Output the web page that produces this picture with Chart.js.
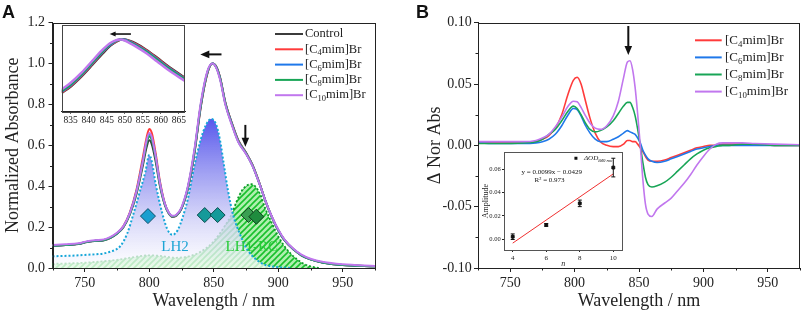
<!DOCTYPE html>
<html>
<head>
<meta charset="utf-8">
<script src="https://cdn.jsdelivr.net/npm/chart.js@4.4.0/dist/chart.umd.min.js"></script>
<style>
  html, body { margin: 0; padding: 0; background: #fff; }
  #wrap { position: relative; width: 803px; height: 315px; overflow: hidden; }
  canvas { position: absolute; }
  .tag { position: absolute; font: bold 18px 'Liberation Sans', Arial, sans-serif; color: #111; }
</style>
</head>
<body>
<div id="wrap">
  <canvas id="chartA" width="400" height="315" style="left:0;top:0"></canvas>
  <canvas id="insetA" width="140" height="110" style="left:55px;top:20px"></canvas>
  <canvas id="chartB" width="403" height="315" style="left:400px;top:0"></canvas>
  <canvas id="insetB" width="150" height="124" style="left:478px;top:145px"></canvas>
  <div class="tag" style="left:2px;top:2px">A</div>
  <div class="tag" style="left:416px;top:2px">B</div>
</div>
<script>
// ---------- panel A: normalized absorbance
const wlA = [725, 735, 745, 752, 758, 765, 770, 775, 780, 785, 790, 795, 798, 800, 802,
  805, 808, 812, 815, 818, 821, 825, 830, 835, 840, 845, 849, 852, 855, 859,
  864, 869, 875, 880, 886, 890, 895, 900, 905, 912, 918, 925, 935, 950, 975];
const absControl = [0.108, 0.112, 0.117, 0.127, 0.132, 0.136, 0.148, 0.168, 0.200, 0.262, 0.360, 0.500, 0.592, 0.625, 0.605,
  0.520, 0.410, 0.310, 0.268, 0.250, 0.256, 0.290, 0.390, 0.560, 0.790, 0.950, 1.000, 0.985, 0.930, 0.810,
  0.710, 0.625, 0.565, 0.505, 0.405, 0.330, 0.250, 0.185, 0.135, 0.090, 0.062, 0.042, 0.026, 0.015, 0.008];
const absC4 = [0.109, 0.113, 0.118, 0.128, 0.133, 0.137, 0.149, 0.170, 0.205, 0.272, 0.380, 0.540, 0.640, 0.680, 0.660,
  0.560, 0.435, 0.318, 0.272, 0.252, 0.257, 0.291, 0.392, 0.565, 0.795, 0.952, 1.000, 0.983, 0.928, 0.808,
  0.708, 0.623, 0.563, 0.503, 0.404, 0.329, 0.250, 0.185, 0.135, 0.090, 0.062, 0.042, 0.026, 0.015, 0.008];
const absC6 = [0.109, 0.113, 0.118, 0.128, 0.133, 0.137, 0.149, 0.169, 0.203, 0.268, 0.372, 0.522, 0.620, 0.655, 0.635,
  0.545, 0.425, 0.315, 0.271, 0.252, 0.258, 0.292, 0.394, 0.568, 0.798, 0.955, 1.000, 0.982, 0.926, 0.806,
  0.706, 0.621, 0.561, 0.502, 0.403, 0.329, 0.250, 0.185, 0.135, 0.090, 0.062, 0.042, 0.026, 0.015, 0.008];
const absC8 = [0.109, 0.113, 0.118, 0.128, 0.133, 0.137, 0.149, 0.169, 0.202, 0.266, 0.368, 0.515, 0.610, 0.645, 0.625,
  0.538, 0.420, 0.313, 0.270, 0.252, 0.258, 0.293, 0.396, 0.571, 0.801, 0.957, 1.000, 0.981, 0.924, 0.804,
  0.704, 0.619, 0.560, 0.501, 0.402, 0.328, 0.249, 0.185, 0.135, 0.090, 0.062, 0.042, 0.026, 0.015, 0.008];
const absC10 = [0.112, 0.116, 0.121, 0.131, 0.136, 0.140, 0.152, 0.172, 0.205, 0.270, 0.372, 0.520, 0.625, 0.660, 0.640,
  0.545, 0.425, 0.317, 0.273, 0.255, 0.261, 0.297, 0.402, 0.580, 0.810, 0.962, 1.000, 0.978, 0.918, 0.798,
  0.700, 0.616, 0.558, 0.500, 0.402, 0.330, 0.252, 0.188, 0.138, 0.093, 0.065, 0.045, 0.029, 0.018, 0.010];

// fitted components
const wlLH2 = [725, 750, 770, 778, 783, 788, 793, 797, 800, 802, 805, 810, 814, 818, 822, 826, 830,
  835, 840, 844, 848, 852, 855, 858, 861, 865, 870, 875, 880, 885, 890, 900, 910];
const absLH2 = [0.057, 0.064, 0.080, 0.110, 0.170, 0.270, 0.380, 0.470, 0.553, 0.520, 0.410, 0.270, 0.190, 0.162, 0.185, 0.250, 0.340,
  0.500, 0.630, 0.700, 0.730, 0.700, 0.620, 0.500, 0.380, 0.260, 0.170, 0.100, 0.058, 0.032, 0.015, 0.004, 0.000];
const wlRC = [725, 750, 775, 790, 800, 810, 820, 830, 840, 850, 858, 864, 868, 872, 876, 879, 882,
  886, 890, 895, 900, 905, 910, 915, 920, 925, 932];
const absRC = [0.020, 0.026, 0.040, 0.055, 0.062, 0.058, 0.050, 0.056, 0.080, 0.130, 0.200, 0.265, 0.330, 0.380, 0.405, 0.410, 0.400,
  0.360, 0.290, 0.220, 0.155, 0.105, 0.068, 0.040, 0.020, 0.008, 0.000];

// band markers (diamonds)
const markWl = [799, 843, 853, 877, 883];
const markAbs = [0.254, 0.259, 0.259, 0.259, 0.251];

// inset A: zoom of the 850 nm band
const wlIn = [832.5, 835, 838, 841, 844, 846, 848, 849, 850, 851, 853, 856, 859, 862, 866.7];
const inControl = [0.852, 0.870, 0.898, 0.930, 0.963, 0.983, 0.996, 1.000, 1.000, 0.997, 0.989, 0.971, 0.949, 0.926, 0.894];
const inC4 = [0.854, 0.872, 0.900, 0.933, 0.966, 0.985, 0.997, 1.000, 0.999, 0.996, 0.987, 0.969, 0.947, 0.924, 0.892];
const inC6 = [0.856, 0.874, 0.902, 0.935, 0.968, 0.986, 0.998, 1.000, 0.999, 0.995, 0.985, 0.967, 0.945, 0.922, 0.890];
const inC8 = [0.858, 0.876, 0.904, 0.937, 0.970, 0.988, 0.998, 1.000, 0.998, 0.994, 0.983, 0.965, 0.943, 0.920, 0.888];
const inC10 = [0.862, 0.880, 0.908, 0.941, 0.973, 0.990, 0.999, 1.000, 0.997, 0.992, 0.981, 0.962, 0.939, 0.916, 0.885];

// ---------- panel B: difference spectra
const wlB = [725, 740, 760, 770, 775, 780, 785, 790, 795, 799, 802, 805, 808, 812, 816,
  820, 825, 830, 834, 838, 841, 843, 845, 847, 849, 851, 853, 855, 857, 860,
  864, 870, 875, 880, 885, 890, 895, 900, 905, 910, 915, 920, 930, 940, 955, 975];
const dC4 = [0.002, 0.002, 0.002, 0.003, 0.005, 0.008, 0.014, 0.025, 0.042, 0.053, 0.0555, 0.050, 0.038, 0.022, 0.010,
  0.003, 0.000, -0.001, -0.001, 0.001, 0.004, 0.004, 0.003, 0.003, 0.001, -0.002, -0.005, -0.009, -0.012, -0.013,
  -0.013, -0.012, -0.010, -0.008, -0.006, -0.004, -0.002, -0.001, 0.000, 0.000, 0.001, 0.001, 0.001, 0.001, 0.000, 0.000];
const dC6 = [0.002, 0.0015, 0.0015, 0.002, 0.003, 0.005, 0.009, 0.016, 0.025, 0.030, 0.029, 0.024, 0.017, 0.010, 0.005,
  0.003, 0.003, 0.005, 0.007, 0.010, 0.012, 0.011, 0.010, 0.009, 0.006, 0.002, -0.004, -0.008, -0.011, -0.013,
  -0.014, -0.013, -0.011, -0.009, -0.007, -0.005, -0.003, -0.002, -0.001, 0.000, 0.000, 0.000, 0.000, 0.000, 0.000, 0.000];
const dC8 = [0.0015, 0.0015, 0.002, 0.003, 0.005, 0.009, 0.013, 0.020, 0.028, 0.032, 0.030, 0.025, 0.019, 0.013, 0.011,
  0.012, 0.015, 0.020, 0.026, 0.032, 0.035, 0.035, 0.031, 0.024, 0.013, 0.000, -0.014, -0.026, -0.032, -0.034,
  -0.033, -0.030, -0.026, -0.021, -0.016, -0.011, -0.007, -0.004, -0.002, -0.001, 0.000, 0.000, 0.001, 0.001, 0.000, 0.000];
const dC10 = [0.003, 0.003, 0.003, 0.004, 0.006, 0.009, 0.015, 0.023, 0.032, 0.036, 0.0355, 0.031, 0.025, 0.018, 0.014,
  0.013, 0.016, 0.024, 0.036, 0.055, 0.068, 0.069, 0.062, 0.047, 0.025, 0.000, -0.028, -0.048, -0.056, -0.058,
  -0.052, -0.047, -0.043, -0.037, -0.031, -0.024, -0.016, -0.009, -0.003, 0.001, 0.002, 0.002, 0.002, 0.0015, 0.001, 0.0005];

// inset B: amplitude at 840 nm vs chain length
const chainN = [4, 6, 8, 10];
const ampl = [0.0022, 0.0123, 0.0308, 0.0615];
const amplErr = [0.0024, 0.0012, 0.0028, 0.0080];
const fitN = [4, 10];
const fitAmp = [-0.0033, 0.0561];

const namesA = ['Control', '[C{4}mim]Br', '[C{6}mim]Br', '[C{8}mim]Br', '[C{10}mim]Br'];
const namesB = ['[C{4}mim]Br', '[C{6}mim]Br', '[C{8}mim]Br', '[C{10}mim]Br'];

// ---------- styling
const SERIF = "'Liberation Serif', 'Times New Roman', serif";
const INK = '#222';
const COL = { ctrl: '#3b3b3b', c4: '#ff3b3b', c6: '#1f78ea', c8: '#18a556', c10: '#c177ee' };

Chart.defaults.font.family = SERIF;
Chart.defaults.color = INK;
Chart.defaults.animation = false;
Chart.defaults.responsive = false;
Chart.defaults.plugins.legend.display = false;
Chart.defaults.plugins.tooltip.enabled = false;

const pts = (xs, ys) => xs.map((x, i) => ({ x, y: ys[i] }));

function lineSet(label, xs, ys, color, order, width) {
  return {
    label, data: pts(xs, ys), borderColor: color, backgroundColor: color,
    borderWidth: width, pointRadius: 0, cubicInterpolationMode: 'monotone', fill: false, order
  };
}

const onStep = (v, step) => Math.abs(v / step - Math.round(v / step)) < 1e-6;

function axis(o) {
  return {
    type: 'linear', position: o.pos, min: o.min, max: o.max,
    display: o.hidden ? false : true,
    border: { color: INK, width: 1 },
    grid: {
      drawOnChartArea: false, drawTicks: true, tickLength: o.tick || 4,
      tickColor: c => onStep(c.tick.value, o.major) ? INK : 'rgba(0,0,0,0)'
    },
    ticks: {
      stepSize: o.step, autoSkip: false, maxRotation: 0, includeBounds: false,
      padding: o.labelPad, color: INK, font: { size: o.size || 14 },
      callback: v => onStep(v, o.major) ? v.toFixed(o.digits) : ''
    },
    title: {
      display: !!o.title, text: o.title, color: INK, padding: o.titlePad,
      font: { size: o.titleSize || 18, style: o.italic ? 'italic' : 'normal' }
    },
    afterFit: s => { if (o.pos === 'left') s.width = o.fit; else s.height = o.fit; }
  };
}

// box around plot, white backdrop for insets, short minor ticks
function framePlugin(opt) {
  return {
    id: 'frame',
    beforeDraw(chart) {
      if (!opt.white) return;
      const { ctx, chartArea: c } = chart;
      ctx.save(); ctx.fillStyle = '#fff';
      ctx.fillRect(c.left, c.top, c.right - c.left, c.bottom - c.top);
      ctx.restore();
    },
    afterDraw(chart) {
      const { ctx, chartArea: c } = chart;
      ctx.save();
      ctx.strokeStyle = opt.color || INK; ctx.lineWidth = 1;
      ctx.strokeRect(Math.round(c.left) + 0.5, Math.round(c.top) + 0.5,
        Math.round(c.right - c.left) - 1, Math.round(c.bottom - c.top));
      ctx.strokeStyle = INK;
      Object.entries(opt.minor || {}).forEach(([id, major]) => {
        const s = chart.scales[id];
        s.ticks.forEach(t => {
          if (onStep(t.value, major)) return;
          const p = Math.round(s.getPixelForValue(t.value)) + 0.5;
          ctx.beginPath();
          if (s.isHorizontal()) { ctx.moveTo(p, c.bottom); ctx.lineTo(p, c.bottom + 2.5); }
          else { ctx.moveTo(c.left, p); ctx.lineTo(c.left - 2.5, p); }
          ctx.stroke();
        });
      });
      ctx.restore();
    }
  };
}

// text with {subscript} parts
function richText(ctx, text, x, y, size, italic) {
  text.split(/[{}]/).forEach((p, i) => {
    const sub = i % 2 === 1;
    ctx.font = (italic ? 'italic ' : '') + (sub ? size * 0.68 : size) + 'px ' + SERIF;
    ctx.fillText(p, x, y + (sub ? size * 0.3 : 0));
    x += ctx.measureText(p).width;
  });
}

function drawArrow(ctx, x1, y1, x2, y2, w, head) {
  const a = Math.atan2(y2 - y1, x2 - x1), ca = Math.cos(a), sa = Math.sin(a);
  ctx.save();
  ctx.strokeStyle = ctx.fillStyle = '#111'; ctx.lineWidth = w;
  ctx.beginPath(); ctx.moveTo(x1, y1); ctx.lineTo(x2 - ca * head * 0.8, y2 - sa * head * 0.8); ctx.stroke();
  ctx.beginPath(); ctx.moveTo(x2, y2);
  ctx.lineTo(x2 - head * ca + head * 0.42 * sa, y2 - head * sa - head * 0.42 * ca);
  ctx.lineTo(x2 - head * ca - head * 0.42 * sa, y2 - head * sa + head * 0.42 * ca);
  ctx.closePath(); ctx.fill();
  ctx.restore();
}

function notesPlugin(opt) {
  return {
    id: 'notes',
    afterDatasetsDraw(chart) {
      const { ctx, scales: { x, y } } = chart;
      (opt.arrows || []).forEach(a => drawArrow(ctx, x.getPixelForValue(a[0]), y.getPixelForValue(a[1]),
        x.getPixelForValue(a[2]), y.getPixelForValue(a[3]), opt.arrowWidth || 2, opt.head || 9));
      ctx.save();
      ctx.textBaseline = 'middle';
      (opt.labels || []).forEach(l => {
        ctx.fillStyle = l.color;
        ctx.textAlign = l.align || 'center';
        ctx.font = (l.italic ? 'italic ' : '') + l.size + 'px ' + SERIF;
        ctx.fillText(l.text, x.getPixelForValue(l.x), y.getPixelForValue(l.y));
      });
      ctx.textAlign = 'left';
      if (opt.legend) {
        const L = opt.legend;
        L.names.forEach((n, i) => {
          const yy = L.y0 + i * L.gap;
          ctx.strokeStyle = L.colors[i]; ctx.lineWidth = 2;
          ctx.beginPath(); ctx.moveTo(L.x0, yy); ctx.lineTo(L.x1, yy); ctx.stroke();
          ctx.fillStyle = INK;
          richText(ctx, n, L.tx, yy, L.size);
        });
      }
      ctx.restore();
    }
  };
}

function hatch() {
  const c = document.createElement('canvas');
  c.width = c.height = 6;
  const g = c.getContext('2d');
  g.fillStyle = 'rgba(110,225,110,0.55)'; g.fillRect(0, 0, 6, 6);
  g.strokeStyle = '#18c02c'; g.lineWidth = 1.6;
  g.beginPath();
  g.moveTo(0, 6); g.lineTo(6, 0);
  g.moveTo(-1, 1); g.lineTo(1, -1);
  g.moveTo(5, 7); g.lineTo(7, 5);
  g.stroke();
  return g.createPattern(c, 'repeat');
}

function lh2Fill(context) {
  const chart = context.chart;
  if (!chart.chartArea) return 'rgba(0,0,0,0)';
  const y = chart.scales.y;
  const g = chart.ctx.createLinearGradient(0, y.getPixelForValue(0.74), 0, y.getPixelForValue(0));
  g.addColorStop(0, 'rgba(75,75,235,0.95)');
  g.addColorStop(0.35, 'rgba(140,140,240,0.85)');
  g.addColorStop(0.7, 'rgba(212,212,248,0.82)');
  g.addColorStop(1, 'rgba(255,255,255,0.72)');
  return g;
}

// ---------- chart A
new Chart(document.getElementById('chartA'), {
  type: 'line',
  data: {
    datasets: [
      { label: 'LH1-RC', data: pts(wlRC, absRC), borderColor: '#0e9a2a', borderWidth: 1.8, borderDash: [2, 2],
        backgroundColor: hatch(), fill: 'origin', pointRadius: 0, cubicInterpolationMode: 'monotone', order: 10 },
      { label: 'LH2', data: pts(wlLH2, absLH2), borderColor: '#16a6d8', borderWidth: 2, borderDash: [2, 2],
        backgroundColor: lh2Fill, fill: 'origin', pointRadius: 0, cubicInterpolationMode: 'monotone', order: 9 },
      lineSet('Control', wlA, absControl, COL.ctrl, 6, 2),
      lineSet('[C4mim]Br', wlA, absC4, COL.c4, 5, 2),
      lineSet('[C6mim]Br', wlA, absC6, COL.c6, 4, 2),
      lineSet('[C8mim]Br', wlA, absC8, COL.c8, 3, 2),
      lineSet('[C10mim]Br', wlA, absC10, COL.c10, 2, 2),
      { label: 'bands', data: pts(markWl, markAbs), showLine: false, pointStyle: 'rectRot', pointRadius: 7.5,
        pointBackgroundColor: ['#1a9fd0', '#159a9a', '#159a9a', '#3a9f52', '#1f8c3e'],
        pointBorderColor: ['#0b4f6a', '#0a4d4d', '#0a4d4d', '#12461f', '#0d3f1a'], pointBorderWidth: 1, order: 0 }
    ]
  },
  options: {
    layout: { padding: { left: 0, right: 25, top: 22.7, bottom: 0 } },
    scales: {
      x: axis({ pos: 'bottom', min: 725, max: 975, step: 25, major: 50, digits: 0, labelPad: 3,
        title: 'Wavelength / nm', titlePad: { top: 0, bottom: 2.5 }, fit: 47 }),
      y: axis({ pos: 'left', min: 0, max: 1.2, step: 0.1, major: 0.2, digits: 1, labelPad: 3.5,
        title: 'Normalized Absorbance', titlePad: { top: 2, bottom: 0 }, fit: 52.5 })
    }
  },
  plugins: [
    framePlugin({ minor: { x: 50, y: 0.2 } }),
    notesPlugin({
      arrows: [[856, 1.045, 839.6, 1.045], [874.5, 0.70, 874.5, 0.593]],
      labels: [
        { text: 'LH2', x: 820, y: 0.104, color: '#1ea5d5', size: 15 },
        { text: 'LH1-RC', x: 879.5, y: 0.104, color: '#25cc36', size: 15 }
      ],
      legend: { names: namesA, colors: [COL.ctrl, COL.c4, COL.c6, COL.c8, COL.c10],
        x0: 275, x1: 303, tx: 305, y0: 34, gap: 15.3, size: 12.5 }
    })
  ]
});

// ---------- inset A
new Chart(document.getElementById('insetA'), {
  type: 'line',
  data: {
    datasets: [
      lineSet('Control', wlIn, inControl, COL.ctrl, 6, 2.5),
      lineSet('[C4mim]Br', wlIn, inC4, COL.c4, 5, 2.5),
      lineSet('[C6mim]Br', wlIn, inC6, COL.c6, 4, 2.5),
      lineSet('[C8mim]Br', wlIn, inC8, COL.c8, 3, 2.5),
      lineSet('[C10mim]Br', wlIn, inC10, COL.c10, 2, 2.5)
    ]
  },
  options: {
    layout: { padding: { left: 6.7, right: 10, top: 5, bottom: 0 } },
    scales: {
      x: axis({ pos: 'bottom', min: 832.5, max: 866.7, step: 5, major: 5, digits: 0, labelPad: 1,
        size: 9.5, tick: 2, fit: 18.3 }),
      y: axis({ pos: 'left', min: 0.80, max: 1.04, step: 0.05, major: 0.05, digits: 2, hidden: true, fit: 0 })
    }
  },
  plugins: [
    framePlugin({ white: true, color: '#444' }),
    notesPlugin({ arrows: [[851.7, 1.015, 845.8, 1.015]], arrowWidth: 1.6, head: 6 })
  ]
});

// ---------- chart B
new Chart(document.getElementById('chartB'), {
  type: 'line',
  data: {
    datasets: [
      lineSet('[C4mim]Br', wlB, dC4, COL.c4, 4, 1.6),
      lineSet('[C6mim]Br', wlB, dC6, COL.c6, 3, 1.6),
      lineSet('[C8mim]Br', wlB, dC8, COL.c8, 2, 1.6),
      lineSet('[C10mim]Br', wlB, dC10, COL.c10, 1, 1.6)
    ]
  },
  options: {
    layout: { padding: { left: 0, right: 2, top: 22.7, bottom: 0 } },
    scales: {
      x: axis({ pos: 'bottom', min: 725, max: 975, step: 25, major: 50, digits: 0, labelPad: 3,
        title: 'Wavelength / nm', titlePad: { top: 0, bottom: 2.5 }, fit: 47 }),
      y: axis({ pos: 'left', min: -0.1, max: 0.1, step: 0.025, major: 0.05, digits: 2, labelPad: 2.3,
        title: '\u0394 Nor Abs', titlePad: { top: 24.2, bottom: 0 }, fit: 78 })
    }
  },
  plugins: [
    framePlugin({ minor: { x: 50, y: 0.05 } }),
    notesPlugin({
      arrows: [[841.7, 0.0973, 841.7, 0.0737]],
      legend: { names: namesB, colors: [COL.c4, COL.c6, COL.c8, COL.c10],
        x0: 295, x1: 321.7, tx: 325, y0: 40.3, gap: 17.1, size: 13 }
    })
  ]
});

// ---------- inset B
new Chart(document.getElementById('insetB'), {
  type: 'line',
  data: {
    datasets: [
      { label: 'fit', data: pts(fitN, fitAmp), borderColor: '#f03030', borderWidth: 1, pointRadius: 0, order: 2 },
      { label: 'amplitude', data: pts(chainN, ampl), showLine: false, pointStyle: 'rect', pointRadius: 2,
        pointBackgroundColor: '#111', pointBorderColor: '#111', order: 1 }
    ]
  },
  options: {
    layout: { padding: { left: 0, right: 5.3, top: 7.3, bottom: 0 } },
    scales: {
      x: axis({ pos: 'bottom', min: 3.48, max: 10.56, step: 2, major: 2, digits: 0, labelPad: 2, size: 7, tick: 2,
        title: 'n', italic: true, titleSize: 8, titlePad: { top: 0, bottom: 0.5 }, fit: 19 }),
      y: axis({ pos: 'left', min: -0.0092, max: 0.0746, step: 0.02, major: 0.02, digits: 2, labelPad: 1.3, size: 6.5, tick: 2,
        title: 'Amplitude', titleSize: 8, titlePad: { top: 3.2, bottom: 0 }, fit: 26 })
    }
  },
  plugins: [
    framePlugin({ white: true, color: '#555' }),
    {
      id: 'errbars',
      afterDatasetsDraw(chart) {
        const { ctx, scales: { x, y } } = chart;
        ctx.save(); ctx.strokeStyle = '#111'; ctx.lineWidth = 1;
        chainN.forEach((n, i) => {
          const px = x.getPixelForValue(n), lo = y.getPixelForValue(ampl[i] - amplErr[i]), hi = y.getPixelForValue(ampl[i] + amplErr[i]);
          ctx.beginPath();
          ctx.moveTo(px, lo); ctx.lineTo(px, hi);
          ctx.moveTo(px - 2, lo); ctx.lineTo(px + 2, lo);
          ctx.moveTo(px - 2, hi); ctx.lineTo(px + 2, hi);
          ctx.stroke();
        });
        // legend entry
        ctx.fillStyle = '#111';
        ctx.fillRect(x.getPixelForValue(7.77) - 1.5, y.getPixelForValue(0.0695) - 1.5, 3, 3);
        ctx.textBaseline = 'middle'; ctx.textAlign = 'left';
        richText(ctx, '\u0394OD{840 nm}', x.getPixelForValue(8.25), y.getPixelForValue(0.0695), 7, true);
        ctx.textAlign = 'center';
        ctx.font = '7px ' + SERIF;
        ctx.fillText('y = 0.0099x \u2212 0.0429', x.getPixelForValue(6.33), y.getPixelForValue(0.0575));
        ctx.fillText('R\u00B2 = 0.973', x.getPixelForValue(6.2), y.getPixelForValue(0.0509));
        ctx.restore();
      }
    }
  ]
});
</script>
</body>
</html>
